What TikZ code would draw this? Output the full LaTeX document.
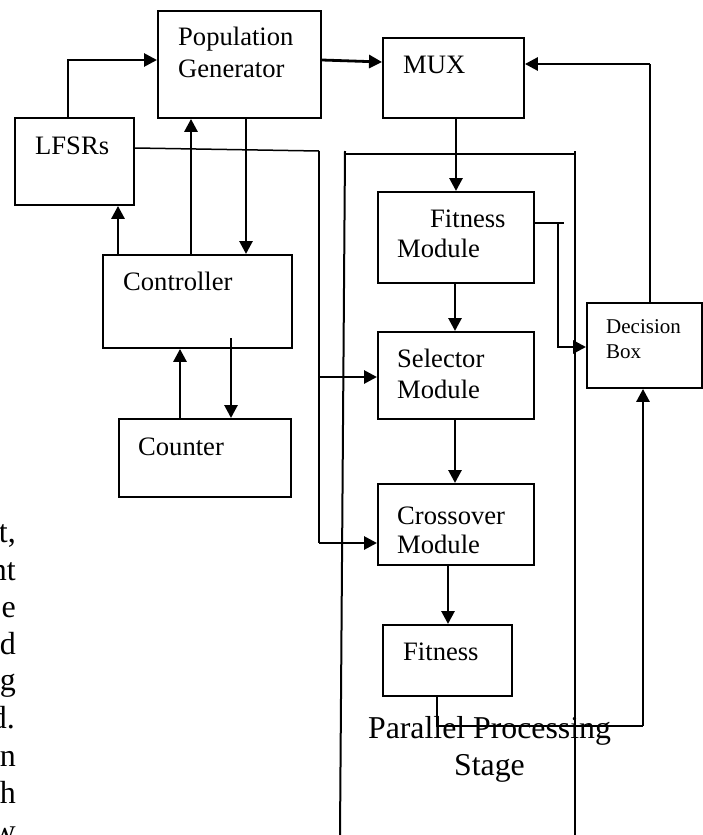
\documentclass[tikz,border=0pt]{standalone}
\usepackage{fontspec}
\setmainfont{Liberation Serif}
\usetikzlibrary{arrows.meta}
\begin{document}
\begin{tikzpicture}[x=1pt,y=-1pt,
  box/.style={draw,line width=1.9pt,rectangle,anchor=north west,inner sep=0pt},
  txt/.style={anchor=base west,inner sep=0pt,font=\fontsize{26.6}{30}\selectfont},
  smalltxt/.style={anchor=base west,inner sep=0pt,font=\fontsize{21}{24}\selectfont},
  bigtxt/.style={anchor=base,inner sep=0pt,font=\fontsize{31.8}{36}\selectfont},
  sidetxt/.style={anchor=base east,inner sep=0pt,font=\fontsize{32}{37}\selectfont},
  arr/.style={line width=2.8pt,-{Triangle[length=13pt,width=13pt]}},
  conn/.style={line width=2pt},
  thinl/.style={line width=1.5pt},
  stageline/.style={line width=2pt}
]
\useasboundingbox (0,0) rectangle (702,835);

% boxes
\node[box,minimum width=163pt,minimum height=107pt] (pg) at (157,10) {};
\node[box,minimum width=119pt,minimum height=87pt] (lf) at (14,117) {};
\node[box,minimum width=141pt,minimum height=80pt] (mux) at (382,37) {};
\node[box,minimum width=189pt,minimum height=93pt] (ctrl) at (102,254) {};
\node[box,minimum width=172pt,minimum height=78pt] (cnt) at (118,418) {};
\node[box,minimum width=156pt,minimum height=91pt] (fm) at (377,191) {};
\node[box,minimum width=156pt,minimum height=87pt] (sel) at (377,331) {};
\node[box,minimum width=156pt,minimum height=81pt] (cro) at (377,483) {};
\node[box,minimum width=129pt,minimum height=71pt] (fit) at (382,624) {};
\node[box,minimum width=115pt,minimum height=85pt] (dec) at (586,302) {};

% texts
\node[txt] (t1) at (178,45) {Population};
\node[txt] (t2) at (178,77) {Generator};
\node[txt] (t3) at (35,154) {LFSRs};
\node[txt] (t4) at (403,73) {MUX};
\node[txt] (t5) at (430,227) {Fitness};
\node[txt] (t6) at (397,257) {Module};
\node[txt] (t7) at (123,290) {Controller};
\node[txt] (t8) at (138,455) {Counter};
\node[txt] (t9) at (397,367) {Selector};
\node[txt] (t10) at (397,398) {Module};
\node[txt] (t11) at (397,524) {Crossover};
\node[txt] (t12) at (397,553) {Module};
\node[smalltxt] (t13) at (606,333) {Decision};
\node[smalltxt] (t14) at (606,358) {Box};
\node[txt] (t15) at (403,660) {Fitness};
\node[bigtxt] (t16) at (489.5,738) {Parallel Processing};
\node[bigtxt] (t17) at (489.5,775) {Stage};

% cut-off paragraph text at the left edge
\node[sidetxt] (s1) at (16,542) {t,};
\node[sidetxt] (s2) at (16,580) {nt};
\node[sidetxt] (s3) at (16,617) {e};
\node[sidetxt] (s4) at (16,654) {d};
\node[sidetxt] (s5) at (16,690) {g};
\node[sidetxt] (s6) at (15,728) {d.};
\node[sidetxt] (s7) at (16,766) {n};
\node[sidetxt] (s8) at (16,803) {h};
\node[sidetxt] (s9) at (16,841) {w};

% parallel processing stage frame
\draw[stageline] (345,151) -- (340,835);
\draw[stageline] (344,154) -- (575,154);
\draw[stageline] (575,151) -- (575,835);

% connectors
\coordinate (j1) at (319,151);
\coordinate (c8) at (231,338);
\draw[arr] (lf.north -| 68,0) |- (pg.west |- 0,60);
\draw[thinl] (lf.east |- 0,148) -- (j1);
\draw[conn] (j1) -- (319,543);
\draw[arr] (319,377) -- (sel.west |- 0,377);
\draw[arr] (319,543) -- (cro.west |- 0,543);
\draw[arr] (ctrl.north -| 191,0) -- (pg.south -| 191,0);
\draw[arr] (pg.south -| 246,0) -- (ctrl.north -| 246,0);
\draw[arr] (ctrl.north -| 118,0) -- (lf.south -| 118,0);
\draw[arr] (cnt.north -| 180,0) -- (ctrl.south -| 180,0);
\draw[arr] (c8) -- (cnt.north -| 231,0);
\draw[arr] (pg.east |- 0,60) -- (mux.west |- 0,62);
\draw[arr] (mux.south -| 456,0) -- (fm.north -| 456,0);
\draw[arr] (fm.south -| 455,0) -- (sel.north -| 455,0);
\draw[arr] (sel.south -| 455,0) -- (cro.north -| 455,0);
\draw[arr] (cro.south -| 448,0) -- (fit.north -| 448,0);
\draw[conn] (fit.south -| 437,0) |- (643,726);
\draw[arr] (643,726) -- (dec.south -| 643,0);
\draw[conn] (fm.east |- 0,223) -- (564,223);
\draw[arr] (558,223) |- (dec.west |- 0,347);
\draw[thinl] (dec.north -| 650,0) -- (650,64);
\draw[arr] (650,64) -- (mux.east |- 0,64);
\end{tikzpicture}
\end{document}
